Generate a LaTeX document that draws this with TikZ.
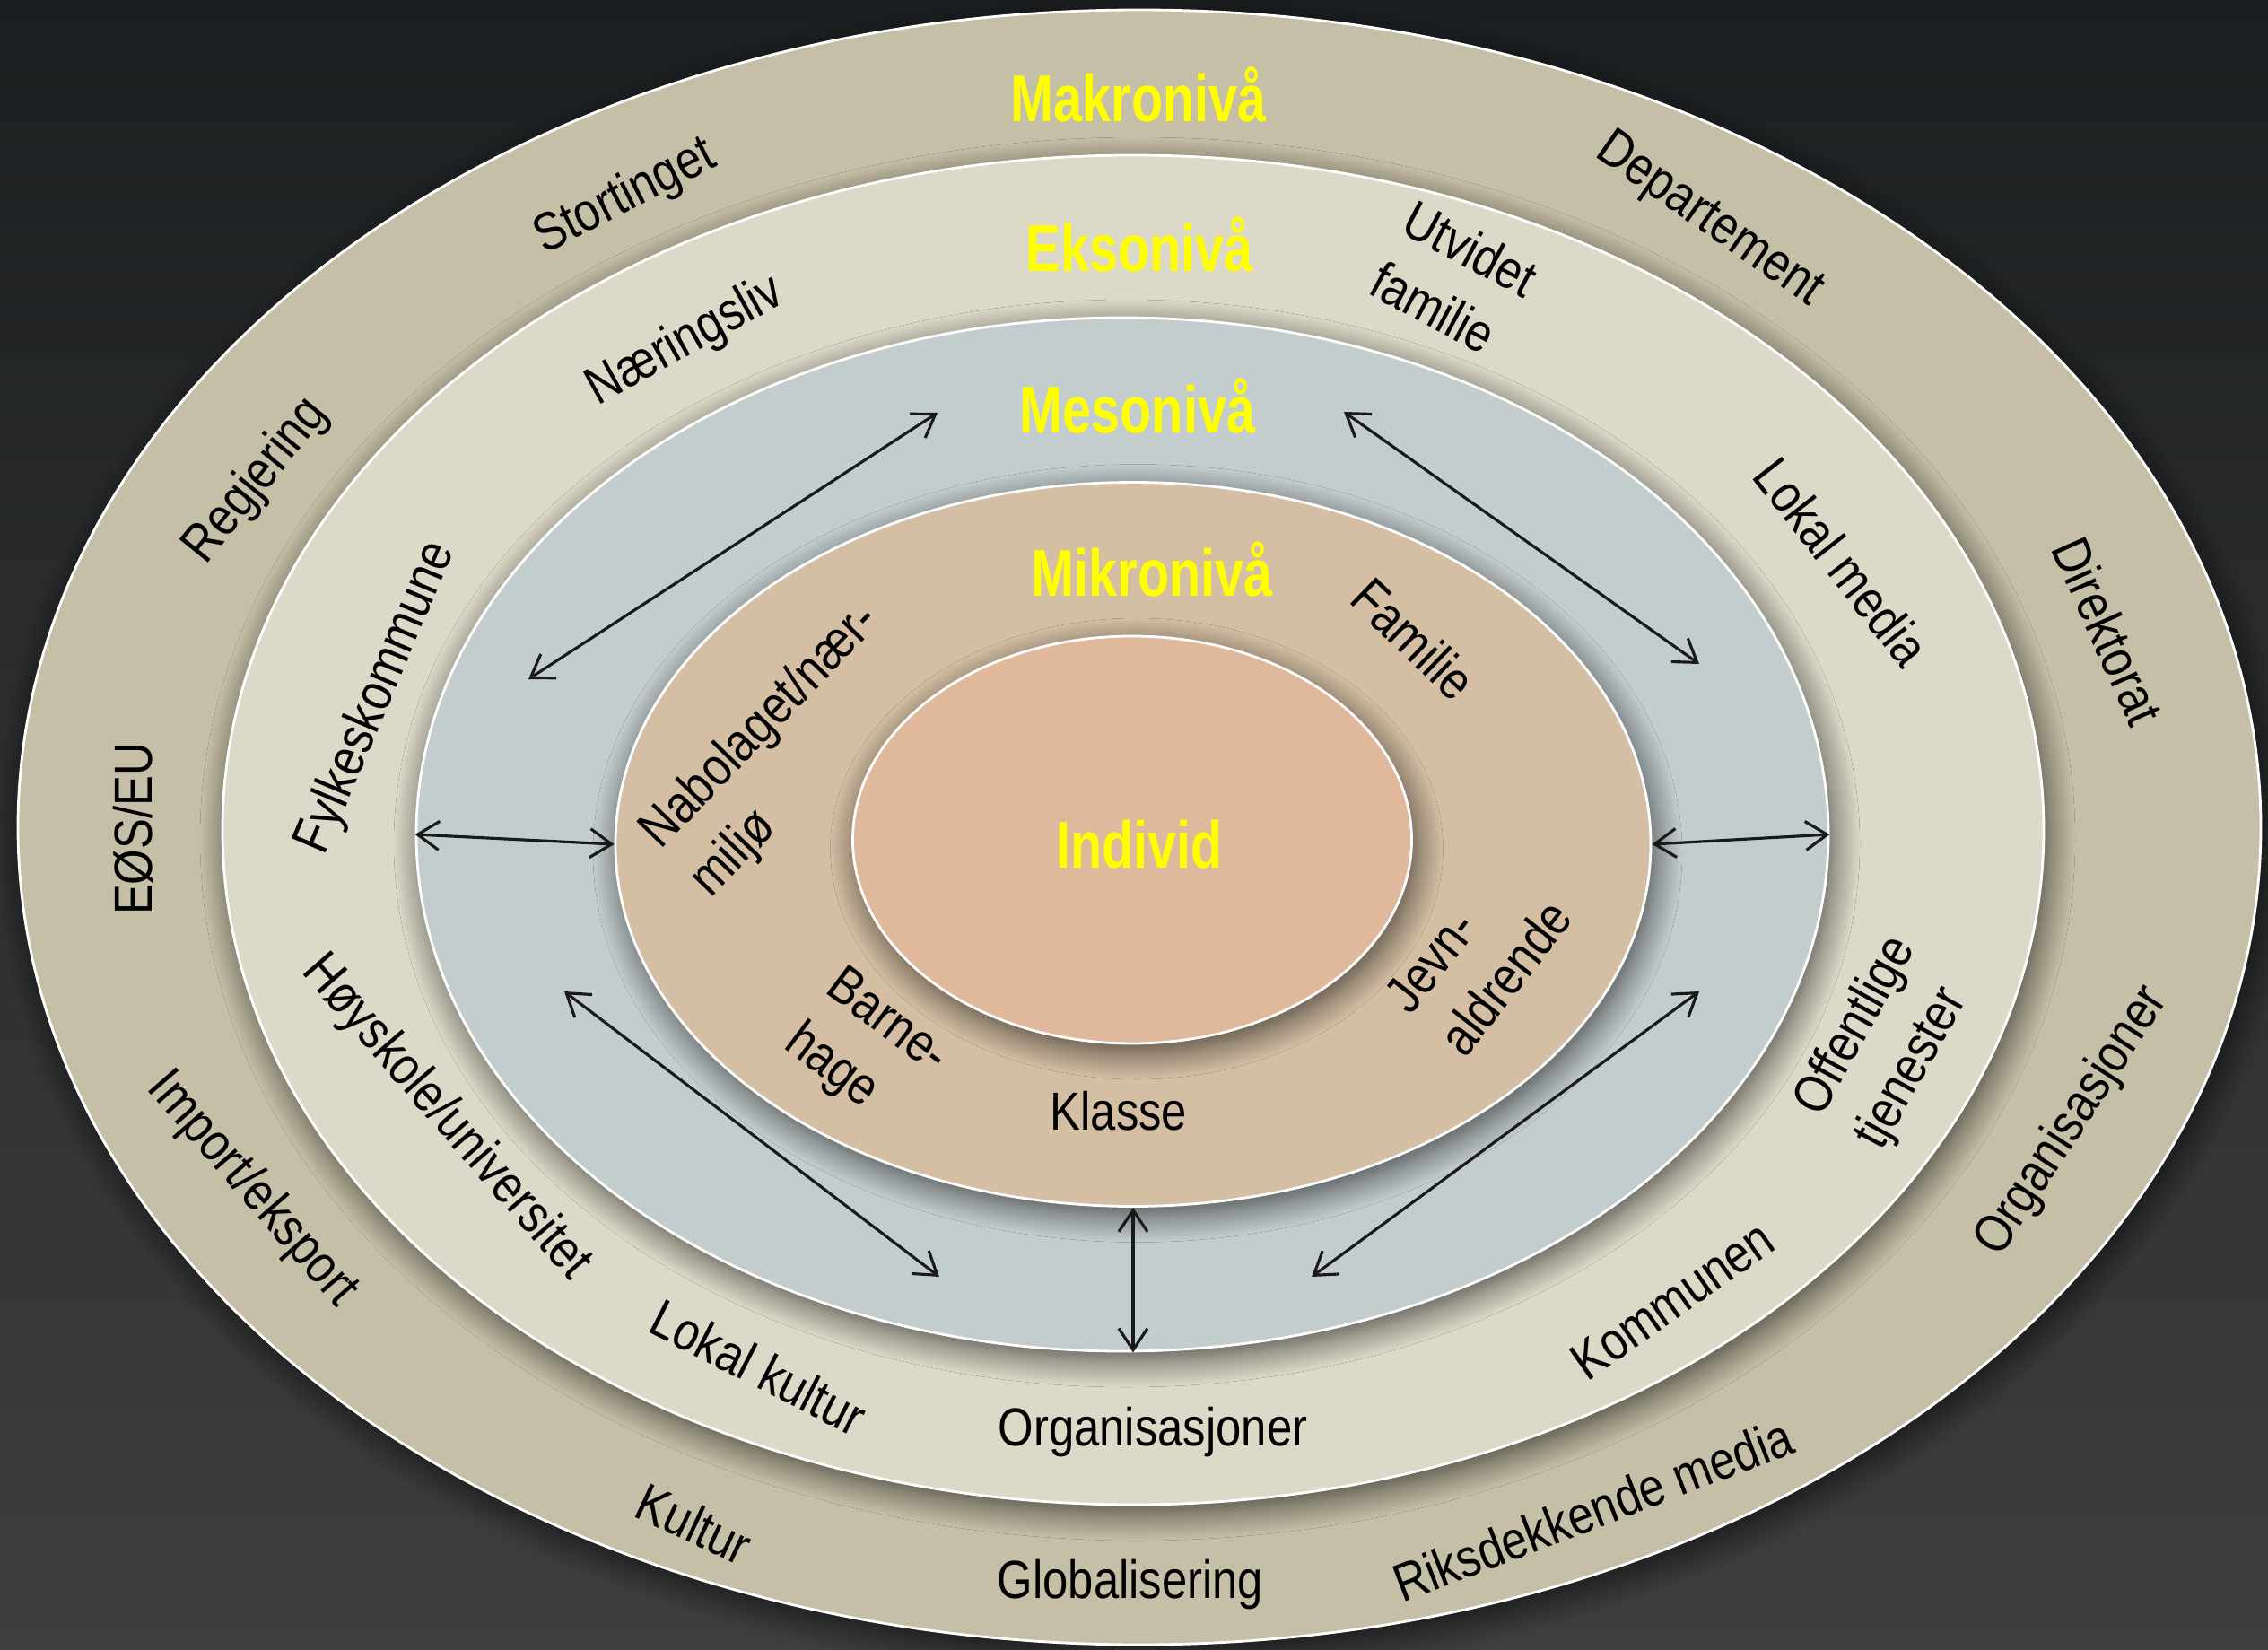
\documentclass[tikz,border=0pt]{standalone}
\usepackage{fontspec}
\setmainfont{Liberation Sans}[FakeStretch=0.85]
\newfontfamily\titlefont{Liberation Sans}[FakeStretch=0.78]
\usepackage{xcolor}
\usepackage{tikz}
\usetikzlibrary{shapes.geometric,shadows.blur,arrows.meta}

\definecolor{bgtop}{RGB}{28,31,33}
\definecolor{bgbottom}{RGB}{62,62,62}
\definecolor{makrofill}{RGB}{198,191,167}
\definecolor{eksofill}{RGB}{220,217,200}
\definecolor{mesofill}{RGB}{196,205,206}
\definecolor{mikrofill}{RGB}{212,191,164}
\definecolor{individfill}{RGB}{224,184,155}
\definecolor{levelyellow}{RGB}{255,255,0}

\tikzset{
	ring/.style={ellipse, draw=white, line width=0.8pt, inner sep=0pt,
		blur shadow={shadow xshift=0.05cm, shadow yshift=-0.10cm, shadow blur radius=0.3cm, shadow blur steps=14, shadow opacity=65}},
	lbl/.style={font=\fontsize{17}{22}\selectfont, text=black, align=left, inner sep=1pt},
	level/.style={font=\titlefont\bfseries\fontsize{21}{24}\selectfont, text=levelyellow, inner sep=1pt},
	link/.style={{Straight Barb[length=2.4mm,width=3.2mm]}-{Straight Barb[length=2.4mm,width=3.2mm]}, line width=0.9pt, black!90}
}

\begin{document}
\begin{tikzpicture}
			% Hintergrund
			\shade[top color=bgtop, bottom color=bgbottom] (0,0) rectangle (25.28,-18.39);
			\useasboundingbox (0,0) rectangle (25.28,-18.39);

			% Ellipsen
			\node[ring, fill=makrofill, minimum width=25.00cm, minimum height=18.22cm] (makro) at (12.70,-9.22) {};
			\node[ring, fill=eksofill, minimum width=20.30cm, minimum height=15.04cm] (ekso) at (12.63,-9.25) {};
			\node[ring, fill=mesofill, minimum width=15.74cm, minimum height=11.52cm] (meso) at (12.51,-9.30) {};
			\node[ring, fill=mikrofill, minimum width=11.54cm, minimum height=8.07cm] (mikro) at (12.63,-9.41) {};
			\node[ring, fill=individfill, minimum width=6.23cm, minimum height=4.54cm] (individ) at (12.62,-9.36) {};

			% Ebenen
			\node[level] (t-makro) at (12.69,-1.05) {Makronivå};
			\node[level] (t-ekso) at (12.70,-2.72) {Eksonivå};
			\node[level] (t-meso) at (12.68,-4.52) {Mesonivå};
			\node[level] (t-mikro) at (12.84,-6.34) {Mikronivå};
			\node[level] (t-individ) at (12.70,-9.41) {Individ};

			% Makronivå
			\foreach \x/\y/\rot/\txt [count=\i] in {
				6.97/-2.20/27/{Stortinget},
				19.05/-2.46/-35/{Departement},
				2.86/-5.36/51/{Regjering},
				23.50/-7.03/-66/{Direktorat},
				1.49/-9.24/90/{EØS/EU},
				2.81/-13.26/-49/{Import/eksport},
				23.10/-12.50/57/{Organisasjoner},
				7.74/-16.98/-25/{Kultur},
				12.60/-17.66/0/{Globalisering},
				17.82/-16.80/21/{Riksdekkende media}
			}{
				\node[lbl, rotate=\rot] (makro-\i) at (\x,\y) {\txt};
			}

			% Eksonivå
			\foreach \x/\y/\rot/\txt [count=\i] in {
				7.64/-3.81/29/{Næringsliv},
				16.21/-3.11/-28/{Utvidet\\familie},
				20.53/-6.26/-52/{Lokal media},
				4.20/-7.78/67/{Fylkeskommune},
				4.97/-12.46/-49/{Høyskole/universitet},
				21.03/-11.63/61/{Offentlige\\tjenester},
				18.64/-14.49/35/{Kommunen},
				12.85/-15.96/0/{Organisasjoner},
				8.52/-15.27/-27/{Lokal kultur}
			}{
				\node[lbl, rotate=\rot] (ekso-\i) at (\x,\y) {\txt};
			}

			% Mikronivå
			\foreach \x/\y/\rot/\txt [count=\i] in {
				15.76/-7.12/-44/{Familie},
				8.76/-8.37/46/{Nabolaget/nær-\\miljø},
				16.48/-10.66/52/{Jevn-\\aldrende},
				9.65/-11.71/-37/{Barne-\\hage},
				12.54/-12.38/0/{Klasse}
			}{
				\node[lbl, rotate=\rot] (mikro-\i) at (\x,\y) {\txt};
			}

			% Pfeile
			\coordinate (ul-a) at (5.89,-7.57);
			\coordinate (ul-b) at (10.45,-4.60);
			\coordinate (ur-a) at (14.98,-4.59);
			\coordinate (ur-b) at (18.94,-7.40);
			\coordinate (ll-a) at (6.29,-11.05);
			\coordinate (ll-b) at (10.47,-14.23);
			\coordinate (lr-a) at (18.94,-11.05);
			\coordinate (lr-b) at (14.62,-14.23);
			\foreach \a/\b in {ul-a/ul-b, ur-a/ur-b, ll-a/ll-b, lr-a/lr-b}{
				\draw[link] (\a) -- (\b);
			}
			\draw[link] (meso.west) -- (mikro.west);
			\draw[link] (mikro.east) -- (meso.east);
			\draw[link] (mikro.south) -- (mikro.south |- meso.south);
		\end{tikzpicture}
\end{document}
